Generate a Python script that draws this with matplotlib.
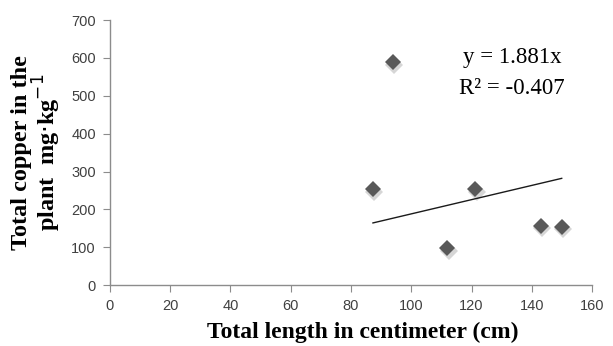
import matplotlib.pyplot as plt
import numpy as np

# Data
length_cm = [87.3, 93.8, 111.9, 121.3, 143.0, 149.9]
copper_mg_kg = [253, 588, 97, 253, 157, 154]
slope = 1.881
r_squared = -0.407
x_ticks = [0, 20, 40, 60, 80, 100, 120, 140, 160]
y_ticks = [0, 100, 200, 300, 400, 500, 600, 700]

grey = '#8c8c8c'

fig = plt.figure(figsize=(6.13, 3.46), dpi=100)
ax = fig.add_axes([0.179, 0.176, 0.787, 0.766])

# Scatter points with a faint shadow
ax.plot(np.array(length_cm) + 0.5, np.array(copper_mg_kg) - 7, 'D', color='#b5b5b5',
        markersize=9.5, alpha=0.55, markeredgewidth=0, zorder=2)
ax.plot(length_cm, copper_mg_kg, 'D', color='#595959', markersize=8.5,
        markeredgewidth=0, zorder=3)

# Linear trendline through the origin
trend_x = np.array([min(length_cm), max(length_cm)])
ax.plot(trend_x, slope * trend_x, color='#1a1a1a', linewidth=1, zorder=2)

ax.text(133.5, 602, f'y = {slope}x', family='Liberation Serif', fontsize=16.5,
        ha='center', va='center')
ax.text(133.5, 520, f'R² = {r_squared}', family='Liberation Serif', fontsize=16.5,
        ha='center', va='center')

ax.set_xlim(0, 160)
ax.set_ylim(0, 700)
ax.set_xticks(x_ticks)
ax.set_yticks(y_ticks)

for side in ['top', 'right']:
    ax.spines[side].set_visible(False)
for side in ['left', 'bottom']:
    ax.spines[side].set_color(grey)
    ax.spines[side].set_linewidth(1)
ax.tick_params(direction='out', length=5, color=grey, labelsize=10.5,
               labelcolor='#404040', pad=5)
for lbl in ax.get_xticklabels() + ax.get_yticklabels():
    lbl.set_family('Liberation Sans')

ax.set_xlabel('Total length in centimeter (cm)', family='Liberation Serif',
              fontweight='bold', fontsize=17)
ax.xaxis.set_label_coords(0.525, -0.178)
ax.xaxis.label.set_va('center')
ax.set_ylabel('Total copper in the\nplant  mg$\\cdot$kg$^{-1}$', family='Liberation Serif',
              fontweight='bold', fontsize=17.5, labelpad=6, linespacing=0.95)

fig.savefig('out.png', dpi=100)
